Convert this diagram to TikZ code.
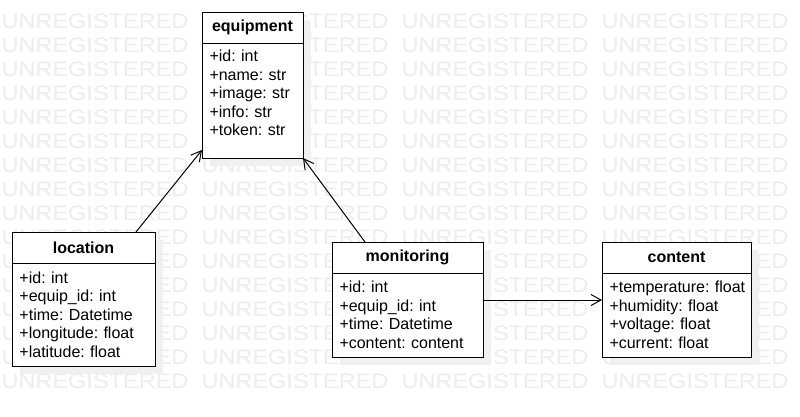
\documentclass[tikz,border=0pt]{standalone}
\usepackage{fontspec}
\setmainfont{Liberation Sans}
\frenchspacing
\usetikzlibrary{positioning,calc,arrows.meta,shadows}
\begin{document}
\begin{tikzpicture}[x=1pt,y=-1pt,
	wmark/.style={text=black!7,font=\fontsize{21}{21}\selectfont,xscale=1.12,transform shape,anchor=base,inner sep=0pt},
	boxshadow/.style={drop shadow={shadow xshift=8pt,shadow yshift=-8pt,fill=black!6,opacity=1}},
	classhead/.style={draw,fill=white,line width=1pt,outer sep=0pt,boxshadow,minimum width=#1,minimum height=31pt,inner sep=0pt,font=\bfseries\fontsize{16}{18.5}\selectfont},
	classbody/.style 2 args={draw,fill=white,line width=1pt,outer sep=0pt,boxshadow,text width=#1,minimum height=#2,inner xsep=7.5pt,inner ysep=0pt,align=left,font=\fontsize{16}{18.5}\selectfont},
	assoc/.style={-{Straight Barb[length=10pt,width=11pt]},line width=1pt}]
	\useasboundingbox (0,0) rectangle (800,416);
	\fill[white] (0,0) rectangle (800,416);
	\foreach \r in {0,...,15}
		\foreach \c in {0,...,3}
			\node[wmark] at (95+200*\c,28+24*\r) {UNREGISTERED};
	\node[classhead=101pt] (equip) at (252.5,27.5) {equipment};
	\node[classbody={86pt}{115pt},below=0pt of equip] (equip attr) {+id: int\\+name: str\\+image: str\\+info: str\\+token: str\\[-3pt]\mbox{}};
	\node[classhead=143pt] (loc) at (83.5,247.5) {location};
	\node[classbody={128pt}{103pt},below=0pt of loc] (loc attr) {+id: int\\+equip\_id: int\\+time: Datetime\\+longitude: float\\+latitude: float};
	\node[classhead=151pt] (mon) at (407.5,257.5) {monitoring};
	\node[classbody={136pt}{84pt},below=0pt of mon] (mon attr) {+id: int\\+equip\_id: int\\+time: Datetime\\+content: content};
	\node[classhead=149pt] (cont) at (676.5,257.5) {content};
	\node[classbody={134pt}{84pt},below=0pt of cont] (cont attr) {+temperature:~float\\+humidity: float\\+voltage: float\\+current: float};
	\draw[assoc] ($(loc.north east)+(-19,0)$) -- ($(equip attr.south west)+(0,-8)$);
	\draw[assoc] ($(mon.north west)+(33,0)$) -- (equip attr.south east);
	\draw[assoc] ($(mon attr.east)+(0,-15)$) coordinate (m) -- (m -| cont attr.west);
\end{tikzpicture}
\end{document}
